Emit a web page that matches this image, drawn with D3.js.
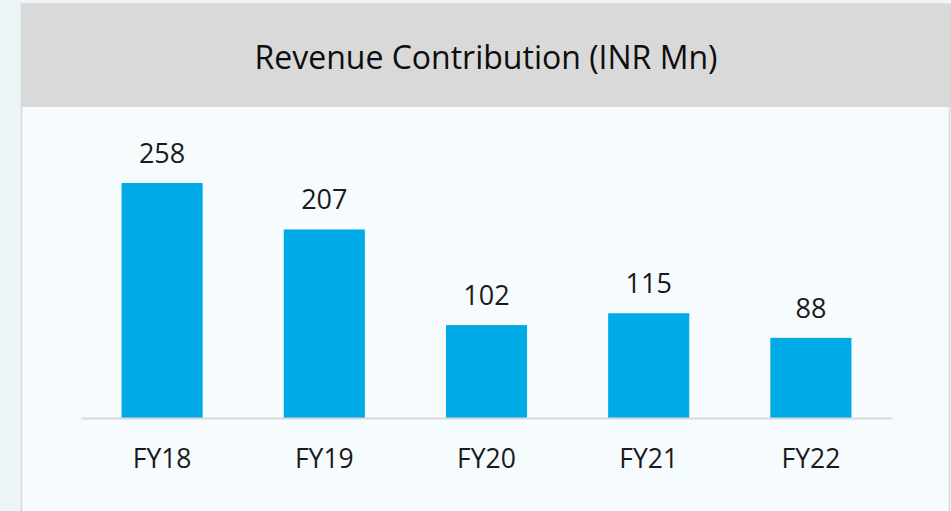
<!DOCTYPE html>
<html>
<head>
<meta charset="utf-8">
<script src="https://cdn.jsdelivr.net/npm/d3@7"></script>
<style>
  html, body { margin: 0; padding: 0; background: #edf5f9; }
  svg { display: block; }
</style>
</head>
<body>
<svg id="chart"></svg>
<script>
// data
var years = ["FY18", "FY19", "FY20", "FY21", "FY22"];
var revenue = [258, 207, 102, 115, 88];
var chartTitle = "Revenue Contribution (INR Mn)";

var width = 951, height = 511;
var margin = {top: 183, right: 59, bottom: 93, left: 81};

var svg = d3.select("#chart")
  .attr("width", width)
  .attr("height", height);

// panel body
svg.append("rect")
  .attr("x", 21.5)
  .attr("y", 4)
  .attr("width", 928)
  .attr("height", 520)
  .attr("fill", "#f6fbfd")
  .attr("stroke", "#d6d9db")
  .attr("stroke-width", 1.5);

// header strip
svg.append("rect")
  .attr("x", 21)
  .attr("y", 4)
  .attr("width", 930)
  .attr("height", 103)
  .attr("fill", "#d9d9d9");

svg.append("text")
  .attr("x", 486)
  .attr("y", 69)
  .attr("text-anchor", "middle")
  .style("font-family", "'Open Sans', sans-serif")
  .style("font-size", "32px")
  .style("fill", "#0d0d0d")
  .text(chartTitle);

var xScale = d3.scaleBand()
  .domain(years)
  .range([margin.left, width - margin.right])
  .paddingInner(0.5)
  .paddingOuter(0.25);

var baseY = height - margin.bottom;
var yScale = d3.scaleLinear()
  .domain([0, d3.max(revenue)])
  .range([baseY, margin.top]);

var data = years.map(function(y, i) { return {year: y, value: revenue[i]}; });

var g = svg.append("g");

g.selectAll("rect.bar")
  .data(data)
  .enter()
  .append("rect")
  .attr("class", "bar")
  .attr("x", function(d) { return xScale(d.year); })
  .attr("width", xScale.bandwidth())
  .attr("y", function(d) { return yScale(d.value); })
  .attr("height", function(d) { return baseY - yScale(d.value); })
  .attr("fill", "#00aae7");

g.selectAll("text.val")
  .data(data)
  .enter()
  .append("text")
  .attr("class", "val")
  .attr("x", function(d) { return xScale(d.year) + xScale.bandwidth() / 2; })
  .attr("y", function(d) { return yScale(d.value) - 20; })
  .attr("text-anchor", "middle")
  .style("font-family", "'Open Sans', sans-serif")
  .style("font-size", "27px")
  .style("fill", "#1a1a1a")
  .text(function(d) { return d.value; });

var xAxis = d3.axisBottom(xScale).tickSize(0).tickPadding(31);
var ax = svg.append("g")
  .attr("transform", "translate(0," + baseY + ")")
  .call(xAxis);

ax.select(".domain")
  .attr("stroke", "#d9d9d9")
  .attr("stroke-width", 2);

ax.selectAll("text")
  .style("font-family", "'Open Sans', sans-serif")
  .style("font-size", "26.5px")
  .style("fill", "#1a1a1a");
</script>
</body>
</html>
